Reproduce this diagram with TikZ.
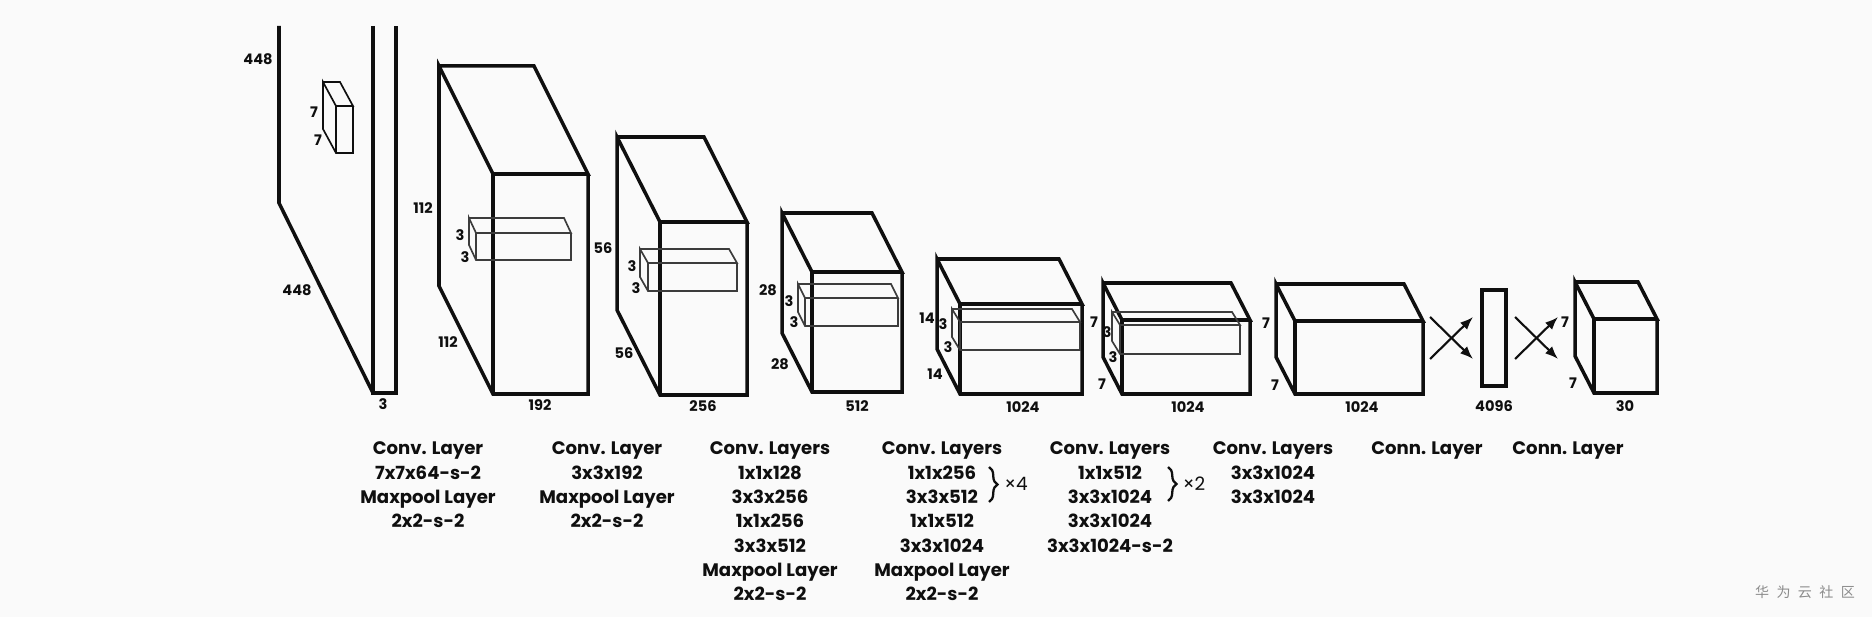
\documentclass[tikz,border=0pt]{standalone}
\usepackage{fontspec}
\setmainfont{Poppins}
\newfontfamily\cjk{Noto Sans CJK SC}
\usetikzlibrary{arrows.meta,decorations.pathreplacing}
\definecolor{bg}{RGB}{250,250,250}
\definecolor{ink}{RGB}{15,15,15}
\definecolor{wm}{RGB}{140,140,140}
\definecolor{thin}{RGB}{60,60,60}
% #1 style, #2 front-left x, #3 front-top y, #4 front-right x, #5 front-bottom y, #6 depth dx, #7 depth dy
\newcommand\mycuboid[7]{%
  \draw[#1] ({#2-#6},{#3-#7}) -- ({#4-#6},{#3-#7}) -- (#4,#3) -- (#2,#3) -- ({#2-#6},{#3-#7})
        -- ({#2-#6},{#5-#7}) -- (#2,#5) -- (#4,#5) -- (#4,#3);
  \draw[#1] (#2,#3) -- (#2,#5);
}
\newcommand\collines[1]{\begin{tabular}[t]{@{}c@{}}#1\end{tabular}}
\begin{document}
\begin{tikzpicture}[x=0.02cm,y=-0.02cm,
  block/.style={draw=ink,line width=2pt,line join=miter},
  kernel/.style={draw=thin,line width=0.95pt},
  dim/.style={inner sep=0pt,text=ink,font=\bfseries\fontsize{8.3}{9}\selectfont},
  caption/.style={inner sep=0pt,anchor=base,text=ink,font=\bfseries\fontsize{10.3}{13.83}\selectfont},
  rep/.style={inner sep=0pt,text=ink,font=\fontsize{10.5}{12}\selectfont},
  bracestyle/.style={draw=ink,line width=1.3pt,decorate,decoration={brace,amplitude=8.5*0.02cm}},
  fcarrow/.style={draw=ink,line width=1.2pt,-{Latex[length=13*0.02cm,width=10*0.02cm]}}
]
\fill[bg] (0,0) rectangle (1872,617);
\useasboundingbox (0,0) rectangle (1872,617);

% input image (448x448x3)
\coordinate (in-bt) at (279,26);
\coordinate (in-bb) at (279,203);
\coordinate (in-fb) at (373,393);
\draw[block] (in-bt) -- (in-bb) -- (in-fb);
\draw[block] (373,26) -- (373,393) -- (396,393) -- (396,26);
\mycuboid{kernel,draw=ink}{336}{106}{353}{153}{13}{24}
\node[dim] (l448a) at (258,59) {448};
\node[dim] (l448b) at (297,290) {448};
\node[dim] (l3a) at (383,404) {3};
\node[dim] (l7a) at (314,112) {7};
\node[dim] (l7b) at (318,140) {7};

% block 2
\mycuboid{block}{493}{174}{588}{394}{54}{108}
\mycuboid{kernel}{476}{233}{571}{260}{7}{15}
\node[dim] (l112a) at (423,208) {112};
\node[dim] (l112b) at (448,342) {112};
\node[dim] (l192) at (540,405) {192};
\node[dim] (l3b) at (460,235) {3};
\node[dim] (l3c) at (465,257) {3};

% block 3
\mycuboid{block}{660}{222}{747}{395}{43}{85}
\mycuboid{kernel}{648}{263}{737}{291}{8}{14}
\node[dim] (l56a) at (603,248) {56};
\node[dim] (l56b) at (624,353) {56};
\node[dim] (l256) at (703,406) {256};
\node[dim] (l3d) at (632,266) {3};
\node[dim] (l3e) at (636,288) {3};

% block 4
\mycuboid{block}{812}{272}{902}{392}{30}{59}
\mycuboid{kernel}{805}{298}{898}{326}{7}{14}
\node[dim] (l28a) at (768,290) {28};
\node[dim] (l28b) at (780,364) {28};
\node[dim] (l512) at (857,406) {512};
\node[dim] (l3f) at (789,301) {3};
\node[dim] (l3g) at (794,322) {3};

% block 5
\mycuboid{block}{960}{304}{1082}{394}{23}{45}
\mycuboid{kernel}{960}{322}{1080}{350}{8}{13}
\node[dim] (l14a) at (927,318) {14};
\node[dim] (l14b) at (935,374) {14};
\node[dim] (l1024a) at (1023,407) {1024};
\node[dim] (l3h) at (943,324) {3};
\node[dim] (l3i) at (948,347) {3};

% block 6
\mycuboid{block}{1122}{320}{1250}{394}{19}{37}
\mycuboid{kernel}{1120}{325}{1240}{354}{8}{13}
\node[dim] (l7c) at (1094,322) {7};
\node[dim] (l7d) at (1102,384) {7};
\node[dim] (l1024b) at (1188,407) {1024};
\node[dim] (l3j) at (1107,332) {3};
\node[dim] (l3k) at (1113,357) {3};

% block 7
\mycuboid{block}{1295}{321}{1423}{394}{19}{37}
\node[dim] (l7e) at (1266,323) {7};
\node[dim] (l7f) at (1275,385) {7};
\node[dim] (l1024c) at (1362,407) {1024};

% fully connected 4096
\draw[block] (1482,290) rectangle (1506,386);
\node[dim] (l4096) at (1494,406) {4096};

% output 7x7x30
\mycuboid{block}{1594}{319}{1657}{393}{19}{37}
\node[dim] (l7g) at (1565,322) {7};
\node[dim] (l7h) at (1573,383) {7};
\node[dim] (l30) at (1625,406) {30};

% crossing arrows
\coordinate (a1) at (1430,317); \coordinate (a2) at (1473,359);
\coordinate (a3) at (1430,359); \coordinate (a4) at (1473,317);
\coordinate (b1) at (1515,317); \coordinate (b2) at (1558,359);
\coordinate (b3) at (1515,359); \coordinate (b4) at (1558,317);
\draw[fcarrow] (a1) -- (a2);
\draw[fcarrow] (a3) -- (a4);
\draw[fcarrow] (b1) -- (b2);
\draw[fcarrow] (b3) -- (b4);

% captions
\node[caption] (c1) at (428,455) {\collines{Conv. Layer\\7x7x64-s-2\\Maxpool Layer\\2x2-s-2}};
\node[caption] (c2) at (607,455) {\collines{Conv. Layer\\3x3x192\\Maxpool Layer\\2x2-s-2}};
\node[caption] (c3) at (770,455) {\collines{Conv. Layers\\1x1x128\\3x3x256\\1x1x256\\3x3x512\\Maxpool Layer\\2x2-s-2}};
\node[caption] (c4) at (942,455) {\collines{Conv. Layers\\1x1x256\\3x3x512\\1x1x512\\3x3x1024\\Maxpool Layer\\2x2-s-2}};
\node[caption] (c5) at (1110,455) {\collines{Conv. Layers\\1x1x512\\3x3x1024\\3x3x1024\\3x3x1024-s-2}};
\node[caption] (c6) at (1273,455) {\collines{Conv. Layers\\3x3x1024\\3x3x1024}};
\node[caption] (c7) at (1427,455) {Conn. Layer};
\node[caption] (c8) at (1568,455) {Conn. Layer};

% repeat braces
\coordinate (br1t) at (989,467); \coordinate (br1b) at (989,502);
\draw[bracestyle] (br1t) -- (br1b);
\node[rep] (x4) at (1016,484) {×4};
\coordinate (br2t) at (1168,467); \coordinate (br2b) at (1168,501);
\draw[bracestyle] (br2t) -- (br2b);
\node[rep] (x2) at (1194,484) {×2};

% watermark
\node[inner sep=0pt,text=wm,font=\cjk\fontsize{8}{10}\selectfont] (wmk) at (1805,592)
  {华\hspace{4.2pt}为\hspace{4.2pt}云\hspace{4.2pt}社\hspace{4.2pt}区};
\end{tikzpicture}
\end{document}
